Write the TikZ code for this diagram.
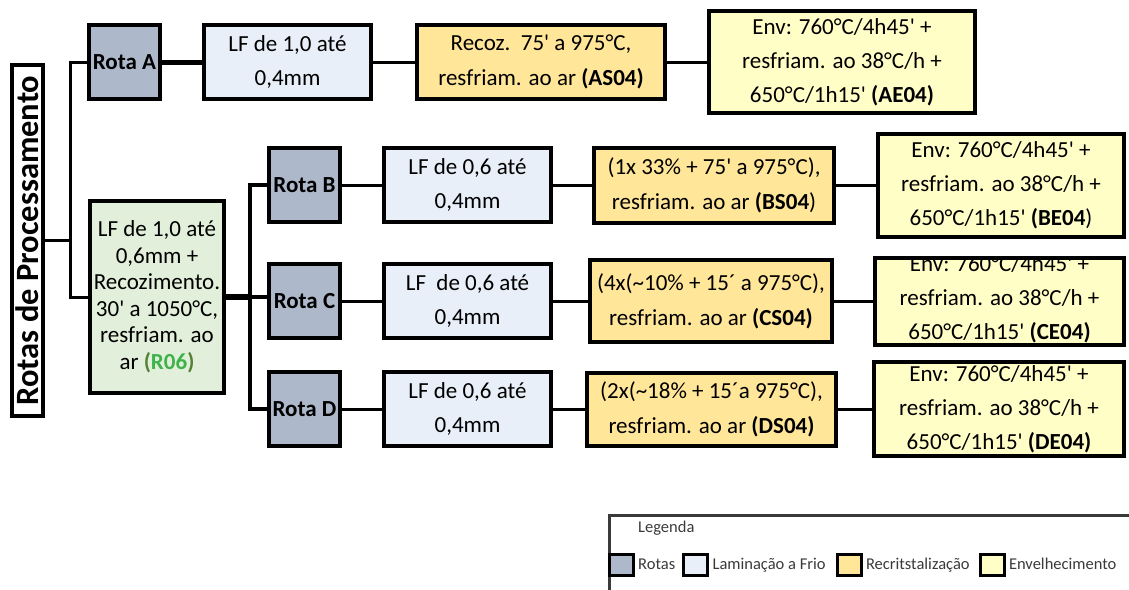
\documentclass[tikz,border=0pt]{standalone}
\usepackage{fontspec}
\setmainfont{Carlito}
\usetikzlibrary{positioning}

\definecolor{rotacor}{HTML}{ADB9CA}
\definecolor{lfcor}{HTML}{E9EFF8}
\definecolor{reccor}{HTML}{FFE699}
\definecolor{envcor}{HTML}{FFFEC6}
\definecolor{r06cor}{HTML}{E2EFDA}
\definecolor{verdeesc}{HTML}{548235}
\definecolor{verdecl}{HTML}{3DB34A}
\definecolor{legcor}{HTML}{3A3A3A}

\newcommand{\ap}{\textquotesingle}
\newcommand{\envtxt}[1]{Env: 760°C/4h45\ap{} +\\resfriam. ao 38°C/h +\\650°C/1h15\ap{} #1}

\begin{document}
\begin{tikzpicture}[x=1pt,y=-1pt,font=\fontsize{23}{34}\selectfont,
  box/.style={draw,line width=4pt,align=center,inner sep=0pt},
  rota/.style={box,fill=rotacor,font=\fontsize{23}{34}\selectfont\bfseries,minimum width=71pt,minimum height=74pt},
  lf/.style={box,fill=lfcor,minimum width=167pt,minimum height=74pt},
  rec/.style={box,fill=reccor,font=\fontsize{23}{35}\selectfont},
  env/.style={box,fill=envcor},
  lig/.style={line width=3pt},
  leg/.style={draw,line width=3pt,minimum width=24pt,minimum height=21pt,inner sep=0pt},
  legtxt/.style={font=\fontsize{16.5}{18}\selectfont,text=legcor,inner sep=0pt,text height=11pt,text depth=3pt}]
\useasboundingbox (0,0) rectangle (1129,589);

\node[box,fill=white,rotate=90,font=\fontsize{32.5}{36}\selectfont\bfseries,minimum width=351pt,minimum height=31pt] (tit) at (27.5,240.5) {Rotas de Processamento};

\node[rota] (rotaA) at (124.5,62) {Rota A};
\node[lf,right=40pt of rotaA] (lfA) {LF de 1,0 até\\0,4mm};
\node[rec,minimum width=248pt,minimum height=74pt,right=42pt of lfA] (recA) {Recoz.\ \ 75\ap{} a 975°C,\\resfriam. ao ar \textbf{(AS04)}};
\node[env,minimum width=266pt,minimum height=102pt,right=40pt of recA] (envA) {\envtxt{\textbf{(AE04)}}};

\node[box,fill=r06cor,minimum width=134pt,minimum height=192pt,font=\fontsize{23}{26.5}\selectfont] (r06) at (157,297)
  {LF de 1,0 até\\0,6mm +\\Recozimento.\\30\ap{} a 1050°C,\\resfriam. ao\\ar \textbf{\textcolor{verdeesc}{(}\textcolor{verdecl}{R06}\textcolor{verdeesc}{)}}};

\node[rota] (rotaB) at (304.5,185) {Rota B};
\node[rota] (rotaC) at (304.5,301) {Rota C};
\node[rota] (rotaD) at (304.5,409) {Rota D};

\node[lf,right=40pt of rotaB] (lfB) {LF de 0,6 até\\0,4mm};
\node[lf,right=40pt of rotaC] (lfC) {LF\ \ de 0,6 até\\0,4mm};
\node[lf,right=40pt of rotaD] (lfD) {LF de 0,6 até\\0,4mm};

\node[rec,minimum width=240pt,minimum height=75pt,right=39pt of lfB] (recB) {(1x 33\% + 75\ap{} a 975°C),\\resfriam. ao ar \textbf{(BS04})};
\node[rec,minimum width=242pt,minimum height=82pt,right=35pt of lfC] (recC) {(4x(\textasciitilde10\% + 15´ a 975°C),\\resfriam. ao ar \textbf{(CS04)}};
\node[rec,minimum width=249pt,minimum height=73pt,right=32pt of lfD] (recD) {(2x(\textasciitilde18\% + 15´a 975°C),\\resfriam. ao ar \textbf{(DS04)}};

\node[env,minimum width=246pt,minimum height=103pt,right=40pt of recB] (envB) {\envtxt{\textbf{(BE04})}};
\node[env,minimum width=249pt,minimum height=87pt,right=39pt of recC,
  path picture={\node[anchor=center,align=center,inner sep=0pt,font=\fontsize{23}{34}\selectfont] at ([yshift=1.5pt]path picture bounding box.center) {\envtxt{\textbf{(CE04)}}};}] (envC) {};
\node[env,minimum width=250pt,minimum height=94pt,right=34pt of recD] (envD) {\envtxt{\textbf{(DE04)}}};

\coordinate (j1) at (70,240.5);
\draw[lig] (tit.south) -- (j1);
\draw[lig] (rotaA.west) -| (j1) |- (r06.west);

\coordinate[right=24pt of r06.east] (j2);
\draw[line width=6pt] (r06.east) -- (j2);
\draw[line width=4pt] (rotaB.west) -| (j2) |- (rotaD.west);
\draw[line width=3.5pt] (j2) -- (j2 -| rotaC.west);

\draw[line width=5pt] (rotaA) -- (lfA);
\draw[lig] (lfA) -- (recA) (recA) -- (envA);
\foreach \r in {B,C,D}
  \draw[lig] (rota\r) -- (lf\r) (lf\r) -- (rec\r) (rec\r) -- (env\r);

\node[draw=legcor,line width=2.5pt,minimum width=600pt,minimum height=120pt,anchor=north west] (legenda) at (608,514) {};
\node[legtxt,anchor=west] (legtit) at (638,528) {Legenda};
\node[leg,fill=rotacor] (sw1) at (621.5,565) {};
\node[legtxt,right=3pt of sw1] (lt1) {Rotas};
\node[leg,fill=lfcor,right=7pt of lt1] (sw2) {};
\node[legtxt,right=3pt of sw2] (lt2) {Laminação a Frio};
\node[leg,fill=reccor,right=10pt of lt2] (sw3) {};
\node[legtxt,right=3pt of sw3] (lt3) {Recritstalização};
\node[leg,fill=envcor,right=9pt of lt3] (sw4) {};
\node[legtxt,right=3pt of sw4] (lt4) {Envelhecimento};
\end{tikzpicture}
\end{document}
